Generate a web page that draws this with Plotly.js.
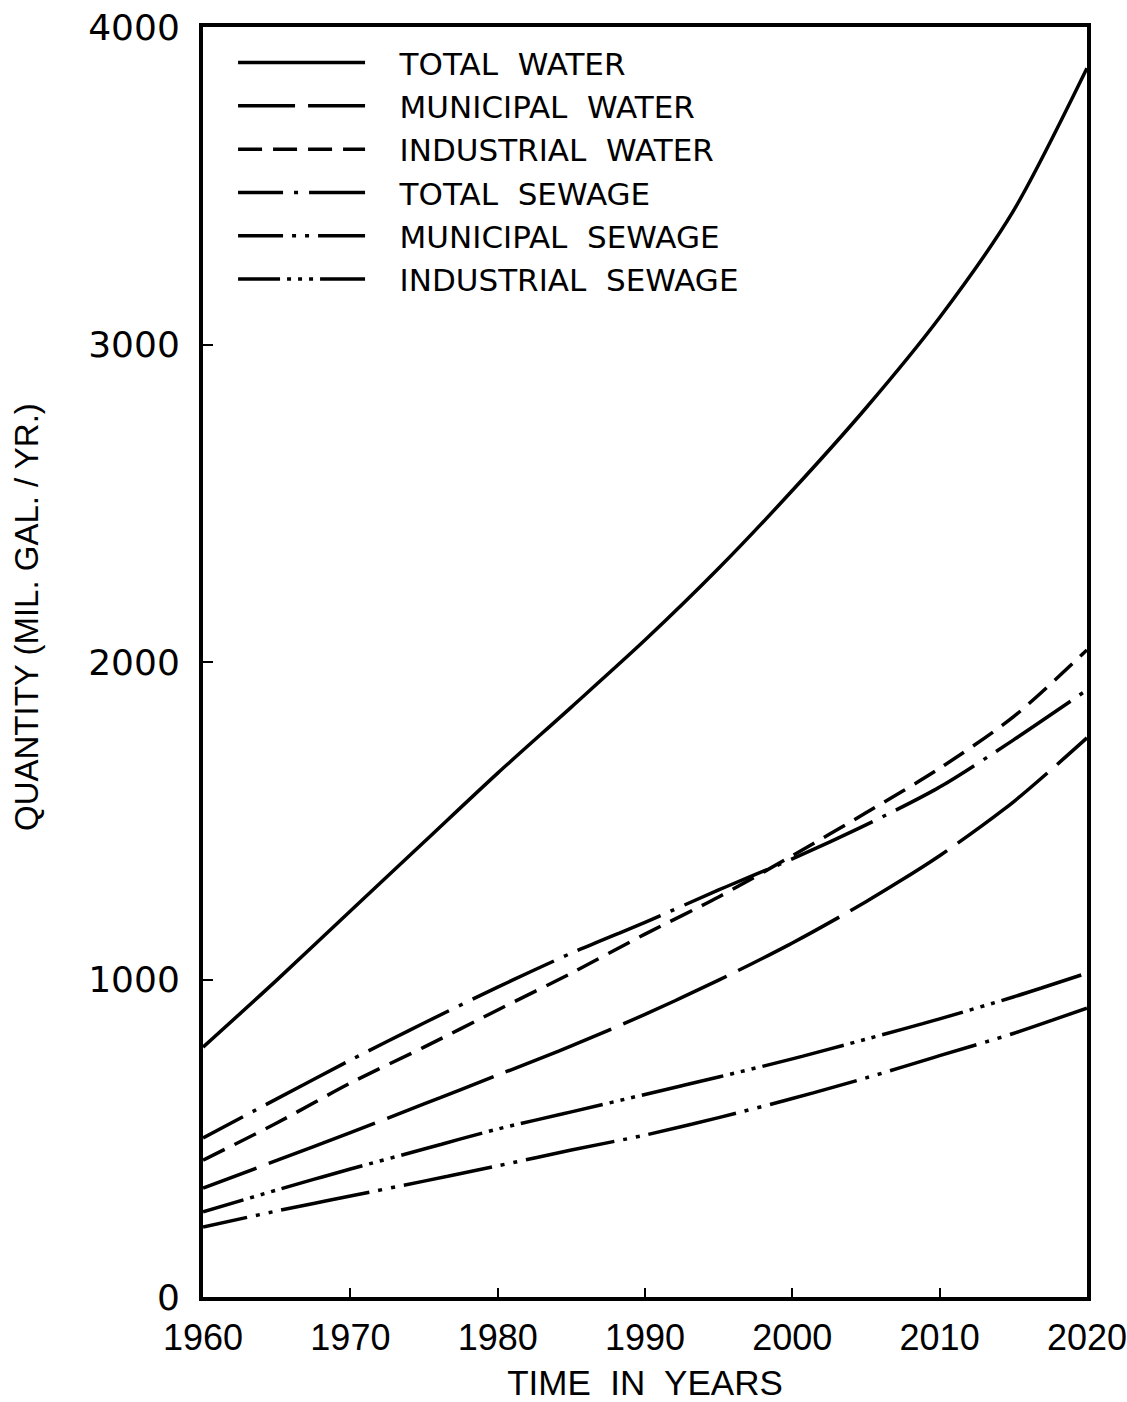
<!DOCTYPE html>
<html>
<head>
<meta charset="utf-8">
<script src="https://cdn.plot.ly/plotly-3.0.1.min.js"></script>
<style>
  html, body { margin: 0; padding: 0; background: #ffffff; }
  #chart { width: 1127px; height: 1402px; }
</style>
</head>
<body>
<div id="chart"></div>
<script>
const years = [1960, 1965, 1970, 1975, 1980, 1985, 1990, 1995, 2000, 2005, 2010, 2015, 2020];
const totalWater       = [787, 998, 1216, 1433, 1650, 1858, 2069, 2295, 2540, 2800, 3085, 3420, 3870];
const municipalWater   = [343, 430, 518, 608, 699, 791, 890, 998, 1115, 1245, 1390, 1559, 1761];
const industrialWater  = [431, 548, 674, 787, 904, 1020, 1143, 1260, 1390, 1525, 1665, 1827, 2038];
const totalSewage      = [501, 624, 746, 863, 976, 1083, 1180, 1282, 1380, 1487, 1606, 1754, 1912];
const municipalSewage  = [220, 271, 318, 365, 413, 463, 510, 565, 625, 690, 760, 830, 910];
const industrialSewage = [268, 337, 403, 466, 529, 583, 638, 693, 750, 812, 876, 945, 1020];

const seriesNames = ["TOTAL  WATER", "MUNICIPAL  WATER", "INDUSTRIAL  WATER",
                     "TOTAL  SEWAGE", "MUNICIPAL  SEWAGE", "INDUSTRIAL  SEWAGE"];
const xTickVals = [1960, 1970, 1980, 1990, 2000, 2010, 2020];
const yTickVals = [0, 1000, 2000, 3000, 4000];
const xTitle = "TIME  IN  YEARS";
const yTitle = "QUANTITY (MIL. GAL. / YR.)";

const seriesData = [totalWater, municipalWater, industrialWater, totalSewage, municipalSewage, industrialSewage];
const dashes = [
  "solid",
  "57px,13px,57px,0px",
  "24px,11px",
  "45px,11px,4px,11px,45px,0px",
  "45px,9px,4px,9px,4px,9px,45px,0px",
  "42px,7px,4px,7px,4px,7px,4px,7px,42px,0px"
];

const pad = "\u00a0\u00a0\u00a0";
const traces = seriesData.map((d, i) => ({
  x: years,
  y: d,
  name: pad + seriesNames[i],
  type: "scatter",
  mode: "lines",
  line: { color: "#000000", width: 3.5, dash: dashes[i], shape: "spline", smoothing: 0.8 }
}));

const layout = {
  width: 1127,
  height: 1402,
  paper_bgcolor: "#ffffff",
  plot_bgcolor: "#ffffff",
  margin: { l: 203, r: 40, t: 27, b: 105 },
  showlegend: true,
  legend: {
    x: 0.034, y: 0.993, xanchor: "left", yanchor: "top",
    bgcolor: "rgba(0,0,0,0)",
    borderwidth: 0,
    itemwidth: 127,
    font: { family: "DejaVu Sans, sans-serif", size: 31, color: "#000000" }
  },
  xaxis: {
    range: [1959.995, 2020.005],
    tickvals: xTickVals,
    ticktext: xTickVals.map(String),
    ticks: "inside",
    ticklen: 9,
    tickwidth: 2,
    tickcolor: "#000000",
    showgrid: false,
    zeroline: false,
    showline: true,
    linecolor: "#000000",
    linewidth: 4,
    mirror: true,
    ticklabelstandoff: 6,
    tickfont: { family: "Liberation Sans, Arial, sans-serif", size: 36, color: "#000000" },
    title: {
      text: xTitle,
      font: { family: "Liberation Sans, Arial, sans-serif", size: 35, color: "#000000" },
      standoff: 14
    }
  },
  yaxis: {
    range: [0, 4000],
    tickvals: yTickVals,
    ticktext: yTickVals.map(String),
    ticks: "inside",
    ticklen: 10,
    tickwidth: 2,
    tickcolor: "#000000",
    showgrid: false,
    zeroline: false,
    showline: true,
    linecolor: "#000000",
    linewidth: 4,
    mirror: true,
    ticklabelstandoff: 12,
    tickfont: { family: "DejaVu Sans, sans-serif", size: 36, color: "#000000" }
  },
  annotations: [{
    text: yTitle,
    xref: "paper", yref: "paper",
    x: (27 - 203) / 884, y: (1297 - 617) / 1270,
    xanchor: "center", yanchor: "middle",
    textangle: -90,
    showarrow: false,
    font: { family: "Liberation Sans, Arial, sans-serif", size: 33, color: "#000000" }
  }]
};

Plotly.newPlot("chart", traces, layout, { staticPlot: true, displayModeBar: false });
</script>
</body>
</html>
